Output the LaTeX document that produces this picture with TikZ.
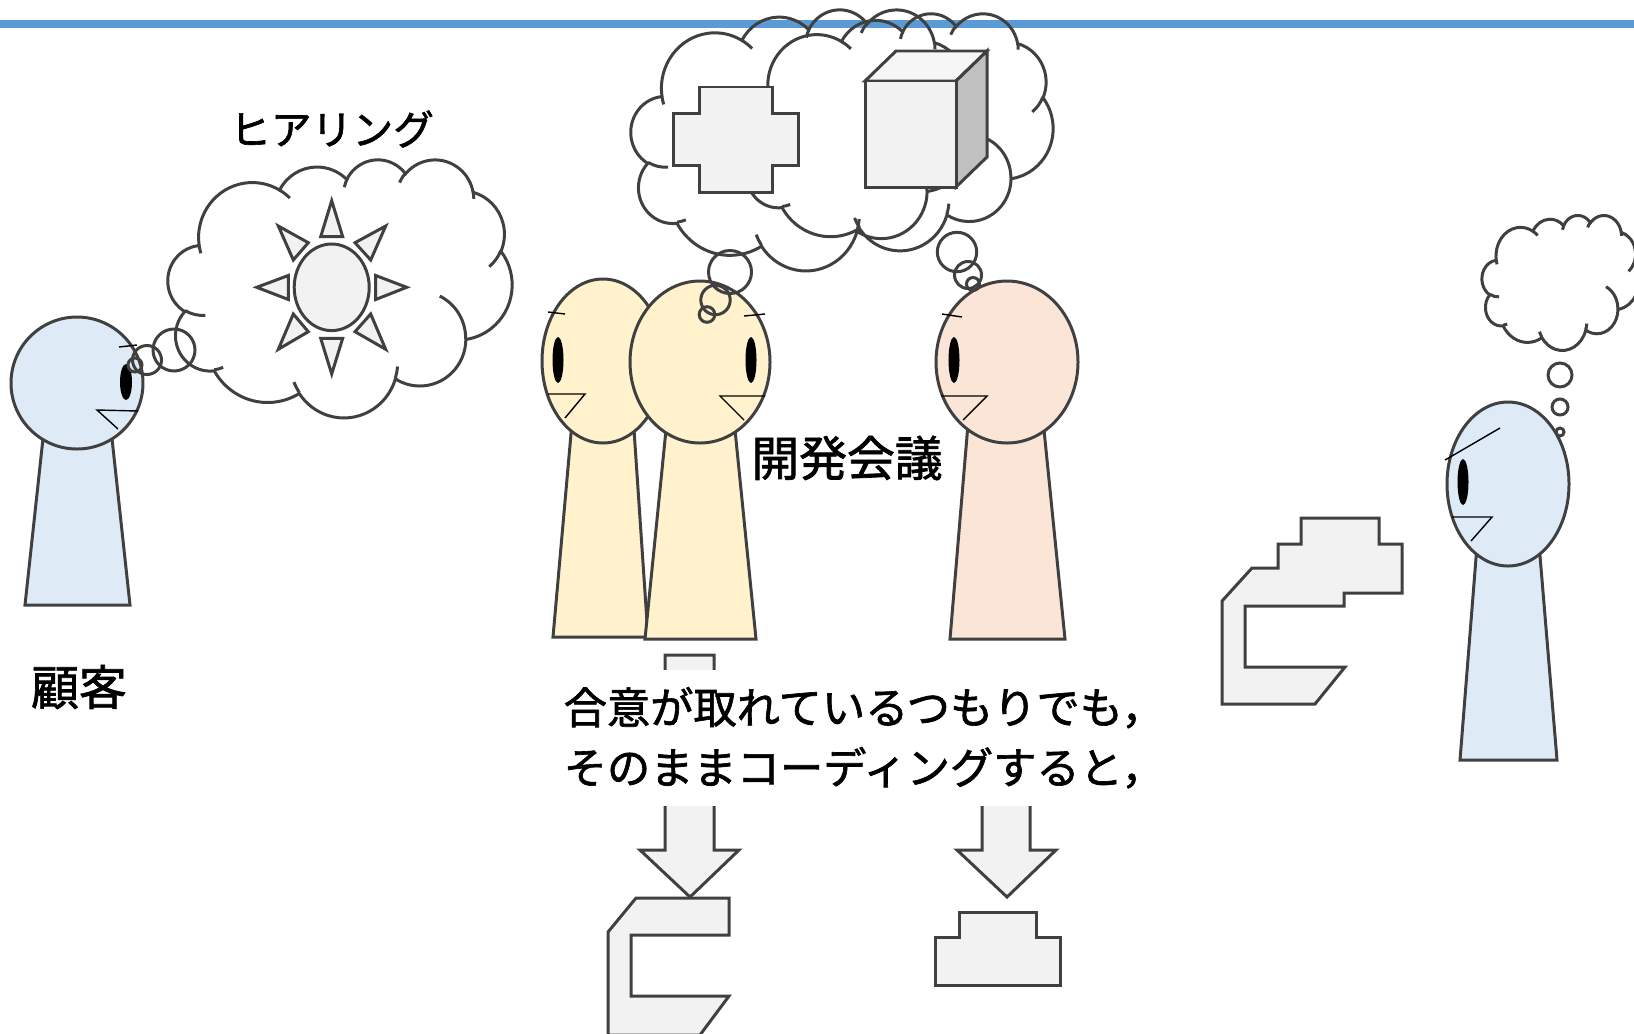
\documentclass[tikz,border=0pt]{standalone}
\usepackage{fontspec}
\setmainfont{Noto Sans CJK JP}[FakeBold=1.5]
\definecolor{linegray}{RGB}{64,64,64}
\definecolor{rulebl}{RGB}{91,155,213}
\definecolor{custblue}{RGB}{222,235,247}
\definecolor{devyellow}{RGB}{255,242,204}
\definecolor{devpink}{RGB}{251,229,214}
\definecolor{blockgray}{RGB}{242,242,242}
\definecolor{cubetop}{RGB}{246,246,246}
\definecolor{cubeside}{RGB}{192,192,192}
\begin{document}
\begin{tikzpicture}[x=0.01cm, y=-0.01cm]
\tikzset{outline/.style={draw=linegray, line width=0.85pt},
  face/.style={draw=black, line width=0.4pt},
  block/.style={outline, fill=blockgray},
  jptext/.style={font=\fontsize{13.6}{16}\selectfont},
  notebox/.style={fill=white, inner xsep=0.1cm, inner ysep=0pt, minimum height=1.36cm,
    align=left, font=\fontsize{12.3}{17.1}\selectfont},
  pics/puffcloud/.style 2 args={code={
    \draw[outline, xscale=#1/43.2, yscale=#2/43.2] (3.9,14.37)
      arc[start angle=172.25, delta angle=128.11, x radius=6.753, y radius=9.19]
      arc[start angle=-152.03, delta angle=106.58, x radius=5.333, y radius=7.267]
      arc[start angle=-153.48, delta angle=116.17, x radius=4.365, y radius=5.945]
      arc[start angle=-139.71, delta angle=129.50, x radius=4.857, y radius=6.595]
      arc[start angle=-74.77, delta angle=97.98, x radius=5.333, y radius=7.273]
      arc[start angle=-37.55, delta angle=119.41, x radius=6.775, y radius=9.22]
      arc[start angle=0.46, delta angle=121.52, x radius=5.785, y radius=7.867]
      arc[start angle=16.85, delta angle=129.39, x radius=6.752, y radius=9.215]
      arc[start angle=58.99, delta angle=91.21, x radius=7.72, y radius=10.543]
      arc[start angle=83.31, delta angle=139.82, x radius=4.36, y radius=5.918]
      arc[start angle=120.35, delta angle=143.76, x radius=4.345, y radius=5.945]
      -- cycle;
    \draw[outline, xscale=#1/43.2, yscale=#2/43.2]
      (4.693,26.177) arc[start angle=85.55, delta angle=34.80, x radius=4.345, y radius=5.945]
      (6.928,34.899) arc[start angle=68.23, delta angle=15.08, x radius=4.36, y radius=5.918]
      (16.478,39.09) arc[start angle=146.24, delta angle=12.23, x radius=6.752, y radius=9.215]
      (28.827,34.751) arc[start angle=4.74, delta angle=12.10, x radius=6.752, y radius=9.215]
      (34.129,22.954) arc[start angle=-64.03, delta angle=64.49, x radius=5.785, y radius=7.867]
      (41.798,15.354) arc[start angle=23.21, delta angle=26.42, x radius=5.333, y radius=7.273]
      (38.324,5.426) arc[start angle=-10.21, delta angle=11.03, x radius=4.857, y radius=6.595]
      (29.078,3.952) arc[start angle=-156.28, delta angle=16.57, x radius=4.857, y radius=6.595]
      (22.141,4.72) arc[start angle=-167.73, delta angle=14.25, x radius=4.365, y radius=5.945]
      (14.0,5.192) arc[start angle=-59.64, delta angle=13.90, x radius=6.753, y radius=9.19]
      (4.127,15.789) arc[start angle=163.19, delta angle=9.06, x radius=6.753, y radius=9.19];
  }}}
\useasboundingbox (0,0) rectangle (1634,1033);
\draw[rulebl, line width=2pt] (0,24) -- (1634,24);

\pic at (168,159) {puffcloud={344}{258}};
\pic at (631,9) {puffcloud={342}{261}};
\pic at (740,13) {puffcloud={313}{237}};
\pic at (1482,215) {puffcloud={157}{135}};

\draw[outline, fill=custblue] (45,420) -- (110,420) -- (130,605) -- (25,605) -- cycle;
\draw[outline, fill=custblue] (77,383) circle[radius=66];
\fill (126,382) ellipse[x radius=6, y radius=18];
\draw[face] (119,347) -- (137,345);
\draw[face] (138,411) -- (97,410) -- (118,429);

\draw[outline, fill=devyellow] (574,400) -- (632,400) -- (648,637) -- (553,637) -- cycle;
\draw[outline, fill=devyellow] (603,361) ellipse[x radius=61, y radius=82];
\fill (558,360) ellipse[x radius=5.5, y radius=23];
\draw[face] (548,312) -- (565,314);
\draw[face] (548,394) -- (585,394) -- (565,418);

\draw[outline, fill=devyellow] (669,400) -- (732,400) -- (756,639) -- (645,639) -- cycle;
\draw[outline, fill=devyellow] (700,362) ellipse[x radius=70, y radius=81];
\fill (751,360) ellipse[x radius=5.5, y radius=23];
\draw[face] (744,316) -- (765,314);
\draw[face] (765,396) -- (720,396) -- (744,420);

\draw[outline, fill=devpink] (970,400) -- (1041,400) -- (1065,639) -- (950,639) -- cycle;
\draw[outline, fill=devpink] (1007,362) ellipse[x radius=71, y radius=81];
\fill (954,360) ellipse[x radius=5.5, y radius=23];
\draw[face] (942,314) -- (962,317);
\draw[face] (941,396) -- (987,396) -- (963,420);

\draw[outline, fill=custblue] (1479,520) -- (1537,520) -- (1557,760) -- (1460,760) -- cycle;
\draw[outline, fill=custblue] (1508,484) ellipse[x radius=61, y radius=82];
\fill (1463,482) ellipse[x radius=5.5, y radius=23];
\draw[face] (1445,460) -- (1500,428);
\draw[face] (1452,517) -- (1492,517) -- (1471,541);

\draw[outline] (174,350) circle[radius=21];
\draw[outline] (147,360) circle[radius=14.5];
\draw[outline] (135,365) circle[radius=7];
\draw[outline] (730,272) circle[radius=21.5];
\draw[outline] (715.5,300) circle[radius=14.7];
\draw[outline] (707,314.5) circle[radius=7.8];
\draw[outline] (957,252) circle[radius=19.7];
\draw[outline] (968,275) circle[radius=13.5];
\draw[outline] (973,284) circle[radius=6.5];
\draw[outline] (1560,375) circle[radius=12];
\draw[outline] (1560,407) circle[radius=8];
\draw[outline] (1560,432) circle[radius=4];

\draw[block] (331.7,287.3) ellipse[x radius=37.5, y radius=43.3];
\draw[block] (331.7,200.7) -- (342.7,236.7) -- (320.7,236.7) -- cycle;
\draw[block] (331.7,374) -- (342.7,338.3) -- (320.7,338.3) -- cycle;
\draw[block] (256.7,287.3) -- (288.3,275.5) -- (288.3,299.5) -- cycle;
\draw[block] (406.7,287.3) -- (375.7,275.5) -- (375.7,299.5) -- cycle;
\draw[block] (278.3,226) -- (308.3,242.7) -- (293.3,260) -- cycle;
\draw[block] (385.7,226) -- (355,242.7) -- (370.7,260) -- cycle;
\draw[block] (278.3,349.3) -- (293.3,314) -- (308.3,331.7) -- cycle;
\draw[block] (385.7,349.3) -- (370.7,314) -- (355,331.7) -- cycle;

\draw[block] (699,87) -- (772,87) -- (772,113) -- (798,113) -- (798,165) -- (772,165)
  -- (772,192) -- (699,192) -- (699,165) -- (673,165) -- (673,113) -- (699,113) -- cycle;
\draw[outline, fill=cubetop] (865,81) -- (896,51) -- (987,51) -- (956,81) -- cycle;
\draw[outline, fill=cubeside] (956,81) -- (987,51) -- (987,157) -- (956,187) -- cycle;
\draw[block] (865,81) rectangle (956,187);

\draw[block] (665,655) -- (714,655) -- (714,850) -- (739,850) -- (690,897) -- (640,850) -- (665,850) -- cycle;
\draw[block] (982,700) -- (1030,700) -- (1030,850) -- (1056,850) -- (1007,897) -- (957,850) -- (982,850) -- cycle;
\node[notebox, anchor=north west] (consensus) at (553,669) {合意が取れているつもりでも，\\そのままコーディングすると，};

\draw[block] (636,898) -- (729,898) -- (729,935) -- (631,935) -- (631,996) -- (729,996) -- (700,1035)
  -- (608,1035) -- (608,932) -- cycle;
\draw[block] (959,912) -- (1036,912) -- (1036,937) -- (1060,937) -- (1060,985) -- (935,985)
  -- (935,937) -- (959,937) -- cycle;
\draw[block] (1252,568) -- (1278,568) -- (1278,544) -- (1301,544) -- (1301,518) -- (1379,518)
  -- (1379,544) -- (1402,544) -- (1402,593) -- (1344,593) -- (1344,606) -- (1245,606)
  -- (1245,667) -- (1345,667) -- (1315,704) -- (1222,704) -- (1222,601) -- cycle;

\node[jptext, font=\fontsize{11.6}{14}\selectfont] (hearing) at (332,129) {ヒアリング};
\node[jptext] (customer) at (79,687) {顧客};
\node[jptext] (meeting) at (847,458) {開発会議};
\end{tikzpicture}
\end{document}
